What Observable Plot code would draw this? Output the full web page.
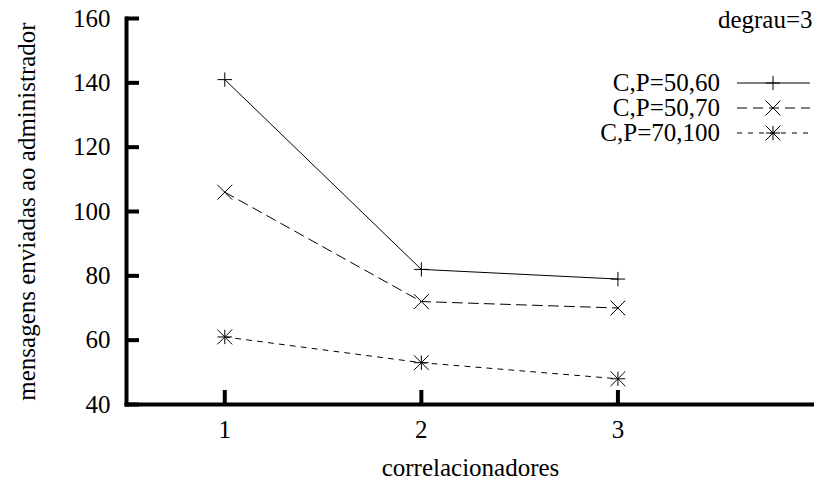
<!DOCTYPE html>
<html><head><meta charset="utf-8">
<script src="https://cdn.jsdelivr.net/npm/d3@7"></script>
<script src="https://cdn.jsdelivr.net/npm/@observablehq/plot@0.6"></script>
<style>
html,body{margin:0;padding:0;background:#fff;}
#wrap{position:relative;width:814px;height:479px;overflow:hidden;}
#legend{position:absolute;left:0;top:0;}
</style></head><body><div id="wrap"></div>
<script>
const categories = [1, 2, 3];
const cp5060 = [141, 82, 79];
const cp5070 = [106, 72, 70];
const cp70100 = [61, 53, 48];
const seriesNames = ["C,P=50,60", "C,P=50,70", "C,P=70,100"];
const yTicks = [40, 60, 80, 100, 120, 140, 160];
const xTicks = [1, 2, 3];
const xLabel = "correlacionadores";
const yLabel = "mensagens enviadas ao administrador";
const note = "degrau=3";

const seriesValues = [cp5060, cp5070, cp70100];
const rows = seriesValues.map((vals, s) => categories.map((c, i) => ({x: c, y: vals[i], series: seriesNames[s]})));
const dashes = [undefined, "10,6", "5,6"];
const rPlus = 4.7, rTimes = 6.8;
const symbolsFor = [["plus"], ["times"], ["plus", "times"]];
const font = "'Liberation Serif', 'Times New Roman', serif";
const fs = 25;

const marks = [
  Plot.frame({anchor: "left", strokeWidth: 4, strokeLinecap: "square"}),
  Plot.frame({anchor: "bottom", strokeWidth: 4, strokeLinecap: "square"}),
  Plot.axisY({ticks: yTicks, tickSize: -13, strokeWidth: 4, fill: "none", label: null}),
  Plot.axisY({ticks: yTicks, tickSize: 0, tickPadding: 16, label: null, fontSize: fs, tickFormat: d => String(d)}),
  Plot.axisX({ticks: xTicks, tickSize: -14, strokeWidth: 4, fill: "none", label: null}),
  Plot.axisX({ticks: xTicks, tickSize: 0, tickPadding: 16, label: null, fontSize: fs, tickFormat: d => String(d)}),
  Plot.text([xLabel], {frameAnchor: "bottom", dy: 71, lineAnchor: "bottom", textAnchor: "middle", fontSize: fs}),
  Plot.text([yLabel], {frameAnchor: "left", dx: -100, rotate: -90, lineAnchor: "middle", textAnchor: "middle", fontSize: fs}),
  Plot.text([note], {frameAnchor: "top-right", dx: -2, dy: 9, textAnchor: "end", lineAnchor: "bottom", fontSize: fs})
];
rows.forEach((data, s) => {
  marks.push(Plot.line(data, {x: "x", y: "y", stroke: "#000", strokeWidth: 1, strokeDasharray: dashes[s]}));
  symbolsFor[s].forEach(sym => marks.push(Plot.dot(data, {x: "x", y: "y", symbol: sym, r: sym === "plus" ? rPlus : rTimes, fill: "none", stroke: "#000", strokeWidth: 1})));
});

const chart = Plot.plot({
  width: 814, height: 479,
  marginLeft: 126, marginRight: 0, marginTop: 18, marginBottom: 75,
  style: {fontFamily: font, fontSize: fs + "px", background: "#fff", color: "#000"},
  x: {domain: [0.5, 4]},
  y: {domain: [40, 160]},
  marks
});
document.getElementById("wrap").appendChild(chart);

// Legend overlay
const leg = d3.select("#wrap").append("svg").attr("id", "legend").attr("width", 814).attr("height", 479)
  .style("font-family", font).style("font-size", fs + "px");
const legTop = 83, legStep = 25, textRight = 720, lineX1 = 737, lineX2 = 810, markX = 773;
seriesNames.forEach((name, s) => {
  const y = legTop + s * legStep;
  leg.append("text").attr("x", textRight).attr("y", y).attr("dy", "0.32em").attr("text-anchor", "end").attr("fill", "#000").text(name);
  leg.append("line").attr("x1", lineX1).attr("x2", lineX2).attr("y1", y).attr("y2", y)
    .attr("stroke", "#000").attr("stroke-width", 1).attr("stroke-dasharray", dashes[s] || null);
  symbolsFor[s].forEach(sym => {
    const r = sym === "plus" ? rPlus : rTimes;
    const t = sym === "plus" ? d3.symbolPlus : d3.symbolTimes;
    leg.append("path").attr("transform", `translate(${markX},${y})`)
      .attr("d", d3.symbol(t, Math.PI * r * r)()).attr("fill", "none").attr("stroke", "#000").attr("stroke-width", 1);
  });
});
</script></body></html>
